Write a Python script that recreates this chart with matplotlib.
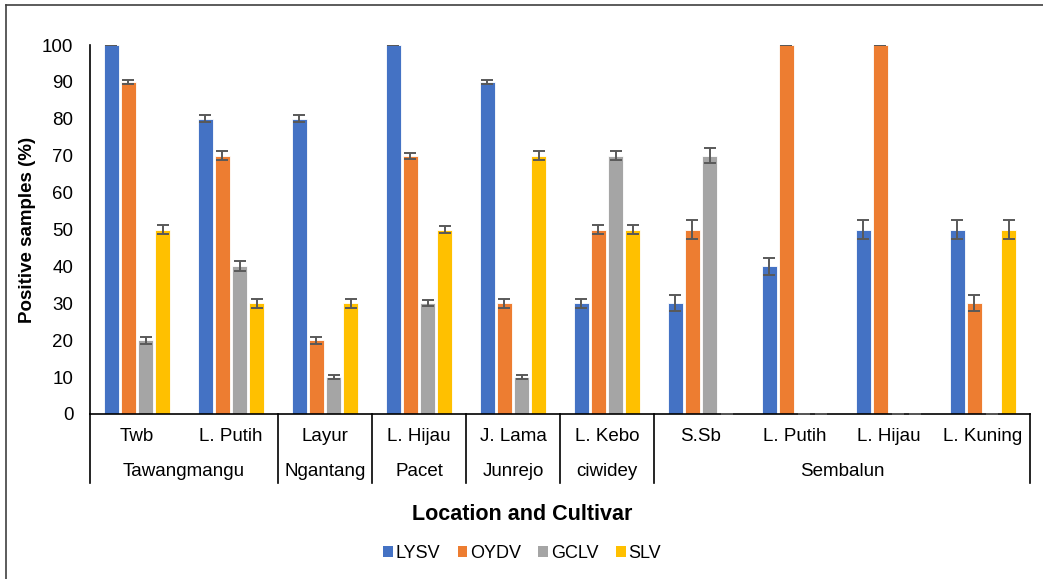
import matplotlib.pyplot as plt
import numpy as np
from matplotlib.patches import Patch
from matplotlib.lines import Line2D

plt.rcParams['font.family'] = ['Liberation Sans', 'DejaVu Sans']

cultivars = ["Twb", "L. Putih", "Layur", "L. Hijau", "J. Lama",
             "L. Kebo", "S.Sb", "L. Putih", "L. Hijau", "L. Kuning"]
locations = ["Tawangmangu", "Ngantang", "Pacet", "Junrejo", "ciwidey", "Sembalun"]
location_sizes = [2, 1, 1, 1, 1, 4]

viruses = ["LYSV", "OYDV", "GCLV", "SLV"]
colors = ["#4472C4", "#ED7D31", "#A5A5A5", "#FFC000"]

lysv = [100, 80, 80, 100, 90, 30, 30, 40, 50, 50]
oydv = [90, 70, 20, 70, 30, 50, 50, 100, 100, 30]
gclv = [20, 40, 10, 30, 10, 70, 70, 0, 0, 0]
slv = [50, 30, 30, 50, 70, 50, 0, 0, 0, 50]

lysv_err = [0, 0.9, 0.9, 0, 0.55, 1.2, 2.2, 2.4, 2.5, 2.5]
oydv_err = [0.55, 1.2, 0.9, 0.8, 1.2, 1.35, 2.5, 0, 0, 2.2]
gclv_err = [0.9, 1.35, 0.6, 0.8, 0.6, 1.2, 2.1, 0, 0, 0]
slv_err = [1.35, 1.2, 1.2, 0.9, 1.2, 1.35, 0, 0, 0, 2.5]

values = [lysv, oydv, gclv, slv]
errors = [lysv_err, oydv_err, gclv_err, slv_err]

fig = plt.figure(figsize=(10.43, 5.79), dpi=100)
W, H = 1043, 579
ax = fig.add_axes([90 / W, (H - 414) / H, (1030 - 90) / W, (414 - 45) / H])

x = np.arange(len(cultivars))
step = 0.181
width = 0.15
for i, (vals, errs) in enumerate(zip(values, errors)):
    pos = x + (i - 1.5) * step
    ax.bar(pos, vals, width, color=colors[i], edgecolor="white", linewidth=0.6,
           zorder=2)
    ax.errorbar(pos, vals, yerr=errs, fmt="none", ecolor="#595959",
                elinewidth=1.4, capsize=4, capthick=1.4, zorder=3)

ax.set_xlim(-0.5, len(cultivars) - 0.5)
ax.set_ylim(0, 100)
ax.set_yticks(np.arange(0, 101, 10))
ax.tick_params(axis="y", length=0, labelsize=13.5, pad=12, labelcolor="#000000")
ax.set_xticks(x)
ax.set_xticklabels(cultivars)
ax.tick_params(axis="x", length=0, labelsize=13.5, pad=10)

for side in ["top", "right"]:
    ax.spines[side].set_visible(False)
ax.spines["left"].set_linewidth(1.2)
ax.spines["bottom"].set_linewidth(1.2)

# location row and separators under the cultivar labels
axis_h = 414 - 45
sep_bottom = -(483 - 414) / axis_h
bounds = np.concatenate([[0], np.cumsum(location_sizes)]) - 0.5
for b in bounds:
    ax.plot([b, b], [0, sep_bottom], color="black", lw=1.2, clip_on=False,
            transform=ax.get_xaxis_transform())
for name, start, end in zip(locations, bounds[:-1], bounds[1:]):
    ax.text((start + end) / 2, -(471 - 414) / axis_h, name, ha="center",
            va="center", fontsize=13.5, transform=ax.get_xaxis_transform())

ax.set_ylabel("Positive samples (%)", fontsize=13.5, fontweight="bold")
ax.yaxis.set_label_coords(-(90 - 36) / (1030 - 90), 0.5)

fig.text(522 / W, 1 - 515 / H, "Location and Cultivar",
         ha="center", va="center", fontsize=15.5, fontweight="bold")

handles = [Patch(facecolor=c, label=v) for c, v in zip(colors, viruses)]
fig.legend(handles=handles, loc="center", bbox_to_anchor=(522 / W, 1 - 553 / H),
           ncol=4, frameon=False, fontsize=13, handlelength=0.55,
           handleheight=0.55, handletextpad=0.15, columnspacing=0.95)

# chart border (top and left edges)
fig.add_artist(Line2D([6 / W, 1], [1 - 5 / H, 1 - 5 / H], color="#404040",
                      lw=1.2, transform=fig.transFigure))
fig.add_artist(Line2D([6 / W, 6 / W], [0, 1 - 5 / H], color="#404040",
                      lw=1.2, transform=fig.transFigure))

fig.savefig("out.png", dpi=100)
